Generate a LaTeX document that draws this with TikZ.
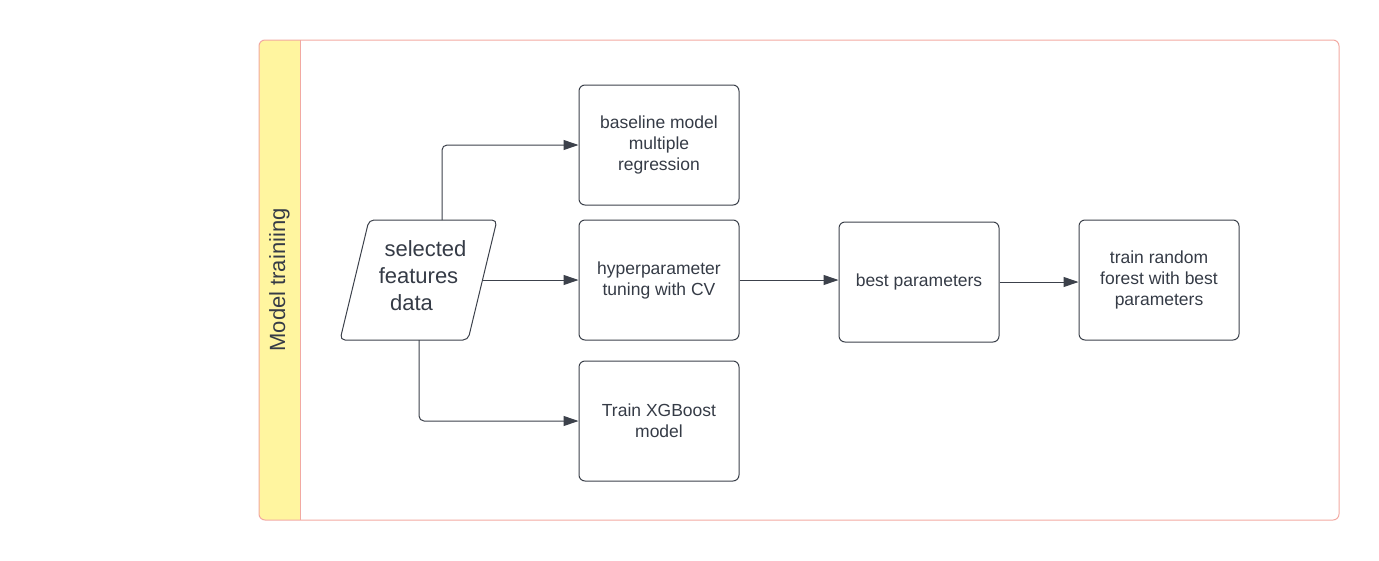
\documentclass[tikz,border=0pt]{standalone}
\usepackage{fontspec}
\setmainfont{Liberation Sans}
\usetikzlibrary{arrows.meta}
\definecolor{poolline}{HTML}{F2A9A2}
\definecolor{headfill}{HTML}{FFF59F}
\definecolor{ink}{HTML}{353B46}
\definecolor{edge}{HTML}{3C414B}
\tikzset{
  stepbox/.style={draw=edge, line width=1pt, rounded corners=6pt, minimum width=160pt, minimum height=120pt,
    inner sep=2pt, align=center, text=ink, font=\fontsize{17.5}{21}\selectfont},
  datatext/.style={inner sep=0pt, align=center, text=ink, font=\fontsize{22}{27}\selectfont},
  dataframe/.style={draw=edge, line width=1pt, rounded corners=5pt},
  arr/.style={draw=edge, line width=1pt, rounded corners=5pt, -{Triangle[length=15pt,width=10pt]}},
}
\begin{document}
\begin{tikzpicture}[x=1pt,y=-1pt]
\useasboundingbox (0,0) rectangle (1379,560);
% pool
\begin{scope}
  \clip[rounded corners=6pt] (259,40) rectangle (1339,520);
  \fill[headfill] (259,40) rectangle (300,520);
\end{scope}
\draw[poolline, line width=1pt] (300,40) -- (300,520);
\draw[poolline, line width=1pt, rounded corners=6pt] (259,40) rectangle (1339,520);
\node[rotate=90, text=ink, font=\fontsize{22}{27}\selectfont] (lanetitle) at (279.5,280) {Model trainiing};
% data parallelogram
\coordinate (dtl) at (369,220);
\coordinate (dtr) at (497,220);
\coordinate (dbr) at (468,340);
\coordinate (dbl) at (340,340);
\draw[dataframe] (dbl) -- (dtl) -- (dtr) -- (dbr) -- cycle;
\coordinate (dtop) at (442,220);
\coordinate (dright) at (482.5,280);
\coordinate (dbottom) at (419,340);
\node[datatext] (data) at (418.5,275.5) {\hspace*{14pt}selected\\features\\data\hspace*{14pt}};
% step nodes
\node[stepbox] (base) at (659,145) {baseline model\\multiple\\regression};
\node[stepbox] (hyper) at (659,280) {hyperparameter\\tuning with CV};
\node[stepbox] (xgb) at (659,421) {Train XGBoost\\model};
\node[stepbox] (best) at (919,282) {best parameters};
\node[stepbox] (rf) at (1159,280) {train random\\forest with best\\parameters};
% connectors
\draw[arr] (dtop) |- (base.west);
\draw[arr] (dright) -- (dright -| hyper.west);
\draw[arr] (dbottom) |- (xgb.west);
\draw[arr] (hyper.east) -- (hyper.east -| best.west);
\draw[arr] (best.east) -- (best.east -| rf.west);
\end{tikzpicture}
\end{document}
